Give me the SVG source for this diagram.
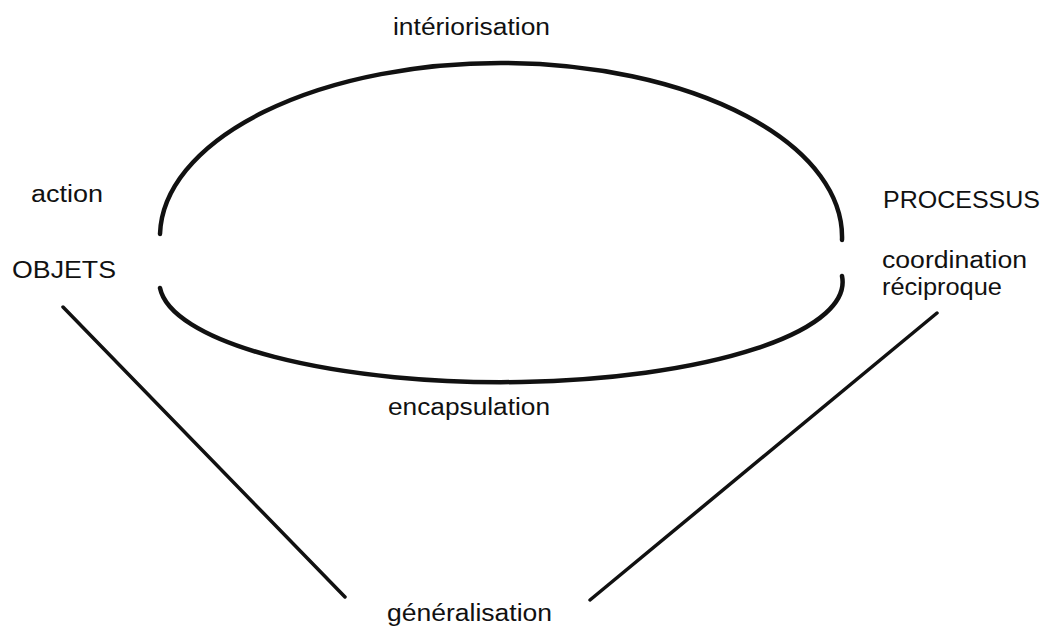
<svg xmlns="http://www.w3.org/2000/svg" width="1054" height="627" viewBox="0 0 1054 627">
<style>
text{font-family:"Liberation Sans",Arial,sans-serif;font-size:23px;fill:#111}
.arc{fill:none;stroke:#111;stroke-width:4.5;stroke-linecap:round}
.ln{fill:none;stroke:#111;stroke-width:3.5;stroke-linecap:round}
</style>
<rect width="1054" height="627" fill="#fff"/>
<g id="connectors">
<path class="arc" d="M160,234 A341,174 0 0 1 842,240"/>
<path class="arc" d="M160,288 A341,100 0 0 0 842,276"/>
<path class="ln" d="M63,307 L345,597"/>
<path class="ln" d="M937,313 L590,600"/>
</g>
<g id="interiorisation"><text x="393" y="35" textLength="157" lengthAdjust="spacingAndGlyphs">intériorisation</text></g>
<g id="action"><text x="31" y="202" textLength="72" lengthAdjust="spacingAndGlyphs">action</text></g>
<g id="objets"><text x="12" y="278" textLength="104" lengthAdjust="spacingAndGlyphs">OBJETS</text></g>
<g id="processus"><text x="883" y="208" textLength="157" lengthAdjust="spacingAndGlyphs">PROCESSUS</text></g>
<g id="coordination"><text x="882" y="268" textLength="145" lengthAdjust="spacingAndGlyphs">coordination</text><text x="882" y="295" textLength="120" lengthAdjust="spacingAndGlyphs">réciproque</text></g>
<g id="encapsulation"><text x="388" y="415" textLength="162" lengthAdjust="spacingAndGlyphs">encapsulation</text></g>
<g id="generalisation"><text x="387" y="621" textLength="165" lengthAdjust="spacingAndGlyphs">généralisation</text></g>
</svg>
